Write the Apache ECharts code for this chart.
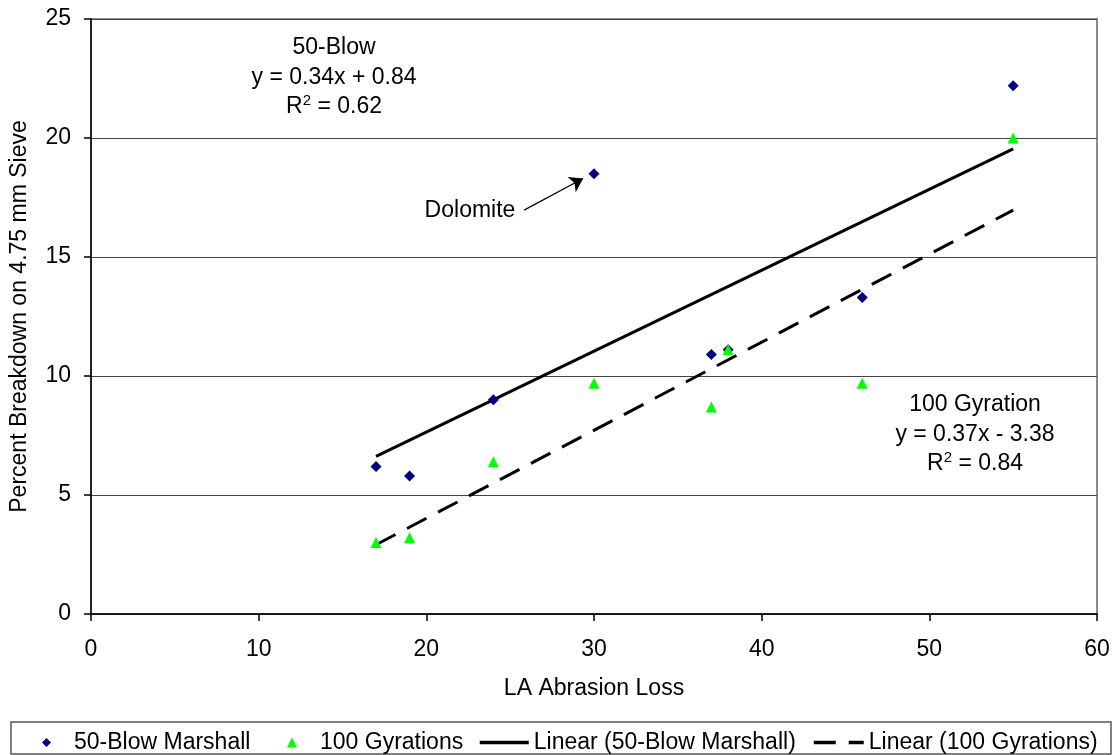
<!DOCTYPE html>
<html>
<head>
<meta charset="utf-8">
<script src="https://cdn.jsdelivr.net/npm/echarts@6/dist/echarts.min.js"></script>
<style>
html,body{margin:0;padding:0;background:#fff;}
#chart{width:1113px;height:755px;}
</style>
</head>
<body>
<div id="chart"></div>
<script>
// Data
const laLoss = [17, 19, 24, 30, 37, 38, 46, 55];
const marshall50 = [6.2, 5.8, 9.0, 18.5, 10.9, 11.1, 13.3, 22.2];
const gyration100 = [3.0, 3.2, 6.4, 9.7, 8.7, 11.1, 9.7, 20.0];
// Trend line end points (from the equations shown)
const trendX = [17, 55];
const trend50 = [6.62, 19.54];
const trend100 = [2.91, 16.97];
const xTicks = [0, 10, 20, 30, 40, 50, 60];
const yTicks = [0, 5, 10, 15, 20, 25];
const seriesNames = ['50-Blow Marshall', '100 Gyrations', 'Linear (50-Blow Marshall)', 'Linear (100 Gyrations)'];
// Dolomite arrow (data coordinates)
const arrowFrom = [25.83, 16.97];
const arrowTo = [29.35, 18.3];

const FONT = 'Liberation Sans, Arial, sans-serif';
const FS = 23;

const zip = (xs, ys) => xs.map((x, i) => [x, ys[i]]);

const chart = echarts.init(document.getElementById('chart'), null, {renderer: 'canvas'});

const legendText = (pad) => ({fontFamily: FONT, fontSize: FS, color: '#000', padding: [0, 0, 0, pad]});
const legendBase = {top: 726, selectedMode: false};

const option = {
  backgroundColor: '#fff',
  animation: false,
  textStyle: {fontFamily: FONT},
  grid: {
    left: 89, right: 16, top: 19, bottom: 141,
    show: true, borderColor: '#8c8c8c', borderWidth: 2, backgroundColor: 'transparent'
  },
  xAxis: {
    type: 'value', min: xTicks[0], max: xTicks[xTicks.length - 1], interval: 10,
    name: 'LA Abrasion Loss', nameLocation: 'middle', nameGap: 63,
    nameTextStyle: {fontFamily: FONT, fontSize: FS, color: '#000'},
    axisLine: {lineStyle: {color: '#000', width: 1.5}},
    axisTick: {show: true, inside: false, length: 7, lineStyle: {color: '#000', width: 1.5}},
    axisLabel: {fontFamily: FONT, fontSize: FS, color: '#000', margin: 24},
    splitLine: {show: false}
  },
  yAxis: {
    type: 'value', min: yTicks[0], max: yTicks[yTicks.length - 1], interval: 5,
    name: 'Percent Breakdown on 4.75 mm Sieve', nameLocation: 'middle', nameGap: 60,
    nameTextStyle: {fontFamily: FONT, fontSize: FS, color: '#000'},
    axisLine: {show: true, lineStyle: {color: '#000', width: 1.5}},
    axisTick: {show: true, inside: false, length: 7, lineStyle: {color: '#000', width: 1.5}},
    axisLabel: {fontFamily: FONT, fontSize: FS, color: '#000', margin: 20},
    splitLine: {show: true, lineStyle: {color: '#454545', width: 1}}
  },
  legend: [
    Object.assign({}, legendBase, {left: 37, itemWidth: 9, itemHeight: 9, data: [{name: seriesNames[0], icon: 'diamond'}], textStyle: legendText(18)}),
    Object.assign({}, legendBase, {left: 282, itemWidth: 10, itemHeight: 10, data: [{name: seriesNames[1], icon: 'triangle'}], textStyle: legendText(18)}),
    Object.assign({}, legendBase, {left: 473, itemWidth: 49, itemHeight: 12, itemStyle: {opacity: 0}, lineStyle: {width: 3.5}, data: [{name: seriesNames[2]}], textStyle: legendText(0)}),
    Object.assign({}, legendBase, {left: 807, itemWidth: 50, itemHeight: 12, itemStyle: {opacity: 0}, lineStyle: {width: 3.5}, data: [{name: seriesNames[3]}], textStyle: legendText(0)})
  ],
  series: [
    {
      name: seriesNames[0], type: 'scatter', symbol: 'diamond', symbolSize: 11,
      itemStyle: {color: '#000080', opacity: 1},
      data: zip(laLoss, marshall50),
      z: 5,
      markLine: {
        silent: true, symbol: ['none', 'arrow'], symbolSize: 13,
        lineStyle: {color: '#000', width: 1.2, type: 'solid', opacity: 1},
        itemStyle: {color: '#000', opacity: 1},
        label: {show: false},
        emphasis: {disabled: true},
        data: [[{coord: arrowFrom}, {coord: arrowTo}]]
      }
    },
    {
      name: seriesNames[1], type: 'scatter', symbol: 'triangle', symbolSize: 11,
      itemStyle: {color: '#00ff00', opacity: 1},
      data: zip(laLoss, gyration100),
      z: 5
    },
    {
      name: seriesNames[2], type: 'line', symbol: 'none', showSymbol: false,
      lineStyle: {color: '#000', width: 3, type: 'solid'},
      itemStyle: {color: '#000'},
      data: zip(trendX, trend50), z: 3
    },
    {
      name: seriesNames[3], type: 'line', symbol: 'none', showSymbol: false,
      lineStyle: {color: '#000', width: 3, type: [22, 13]},
      itemStyle: {color: '#000'},
      data: zip(trendX, trend100), z: 3
    }
  ],
  graphic: [
    {type: 'rect', shape: {x: 11, y: 722, width: 1100, height: 32}, style: {fill: 'transparent', stroke: '#555', lineWidth: 1.5}, z: 0},
    {type: 'text', x: 334, y: 48, style: {text: '50-Blow', font: FS + 'px ' + FONT, fill: '#000', textAlign: 'center', textVerticalAlign: 'middle'}},
    {type: 'text', x: 334, y: 78, style: {text: 'y = 0.34x + 0.84', font: FS + 'px ' + FONT, fill: '#000', textAlign: 'center', textVerticalAlign: 'middle'}},
    {type: 'text', x: 334, y: 107, style: {text: '{r|R}{s|2}{r| = 0.62}', textAlign: 'center', textVerticalAlign: 'middle',
      rich: {r: {fontFamily: FONT, fontSize: FS, color: '#000'}, s: {fontFamily: FONT, fontSize: 15, color: '#000', verticalAlign: 'top', padding: [0, 0, 12, 0]}}}},
    {type: 'text', x: 975, y: 405, style: {text: '100 Gyration', font: FS + 'px ' + FONT, fill: '#000', textAlign: 'center', textVerticalAlign: 'middle'}},
    {type: 'text', x: 975, y: 435, style: {text: 'y = 0.37x - 3.38', font: FS + 'px ' + FONT, fill: '#000', textAlign: 'center', textVerticalAlign: 'middle'}},
    {type: 'text', x: 975, y: 464, style: {text: '{r|R}{s|2}{r| = 0.84}', textAlign: 'center', textVerticalAlign: 'middle',
      rich: {r: {fontFamily: FONT, fontSize: FS, color: '#000'}, s: {fontFamily: FONT, fontSize: 15, color: '#000', verticalAlign: 'top', padding: [0, 0, 12, 0]}}}},
    {type: 'text', x: 470, y: 211, style: {text: 'Dolomite', font: FS + 'px ' + FONT, fill: '#000', textAlign: 'center', textVerticalAlign: 'middle'}}
  ]
};

chart.setOption(option);
</script>
</body>
</html>
